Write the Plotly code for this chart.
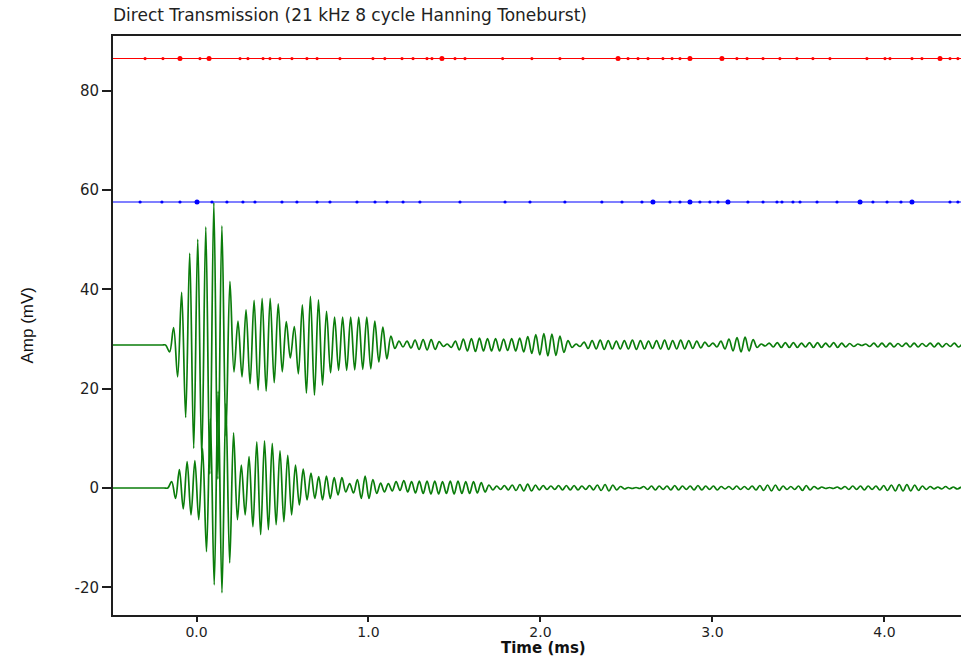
import plotly.graph_objects as go

# ---------------- text ----------------
title_text = "Direct Transmission (21 kHz 8 cycle Hanning Toneburst)"
x_title = "Time (ms)"
y_title = "Amp (mV)"

x_tick_vals = [0, 1, 2, 3, 4]
x_tick_text = ["0.0", "1.0", "2.0", "3.0", "4.0"]
y_tick_vals = [-20, 0, 20, 40, 60, 80]
y_tick_text = ["-20", "0", "20", "40", "60", "80"]

# ---------------- data ----------------
record_start = -0.5          # ms, start of the recorded window

# upper (offset) channel: successive peak / trough readings (mV)
upper_start = -0.180         # ms, time of first reading
upper_step = 0.0234          # ms between successive readings (half period)
upper_vals = [
    28.8, 27.4, 32.3, 22.4, 39.4, 14.2, 47.3, 8.0, 50.1, 6.0,
    52.6, 2.8, 57.5, 1.8, 52.8, 10.5, 41.6, 23.4, 33.6, 22.4,
    35.9, 21.0, 37.8, 19.7, 38.2, 19.5, 38.2, 21.2, 37.1, 23.4,
    33.5, 26.2, 32.5, 23.0, 36.9, 19.1, 38.6, 18.7, 37.9, 20.7,
    35.6, 23.2, 34.4, 23.7, 34.4, 23.7, 34.4, 23.8, 34.4, 23.9,
    34.4, 24.0, 33.6, 25.4, 32.4, 26.0, 30.6, 28.1, 29.6, 28.4,
    29.6, 28.2, 29.8, 27.9, 29.9, 27.8, 29.9, 27.9, 29.5, 28.5,
    29.0, 28.3, 29.6, 27.8, 30.0, 27.6, 30.1, 27.5, 30.2, 27.6,
    30.1, 27.6, 30.1, 27.6, 30.0, 27.7, 30.1, 27.6, 30.2, 27.4,
    30.5, 27.1, 30.9, 26.8, 31.1, 26.6, 31.0, 26.7, 30.6, 27.3,
    29.7, 28.3, 29.0, 28.5, 29.4, 28.1, 29.7, 28.0, 29.8, 27.9,
    29.7, 28.0, 29.6, 28.0, 29.7, 28.0, 29.8, 27.9, 29.7, 28.0,
    29.6, 28.1, 29.7, 28.0, 29.8, 27.9, 29.7, 28.0, 29.8, 28.0,
    29.7, 28.1, 29.6, 28.2, 29.4, 28.5, 29.2, 28.4, 29.6, 28.0,
    30.0, 27.6, 30.3, 27.4, 30.4, 27.6, 29.9, 28.3, 29.0, 28.6,
    29.2, 28.4, 29.3, 28.3, 29.3, 28.3, 29.3, 28.3, 29.2, 28.4,
    29.3, 28.3, 29.3, 28.3, 29.2, 28.4, 29.3, 28.3, 29.2, 28.4,
    29.1, 28.5, 29.0, 28.7, 29.0, 28.5, 29.2, 28.4, 29.2, 28.4,
    29.2, 28.4, 29.1, 28.5, 29.2, 28.4, 29.2, 28.4, 29.1, 28.5,
    29.2, 28.4, 29.2, 28.4, 29.1, 28.5, 29.2, 28.4, 29.1,
]

# lower channel: successive peak / trough readings (mV)
lower_start = -0.167
lower_step = 0.0225
lower_vals = [
    0.0, 1.3, -2.1, 3.7, -4.2, 5.3, -5.4, 5.5, -6.4, 8.0,
    -12.8, 14.0, -19.5, 19.5, -21.1, 17.0, -15.1, 11.1, -6.4, 4.6,
    -5.4, 6.3, -7.8, 9.3, -9.4, 9.5, -8.4, 9.0, -7.4, 7.5,
    -6.8, 6.6, -5.4, 4.6, -3.4, 3.8, -2.4, 3.0, -2.1, 2.3,
    -2.4, 2.4, -2.1, 2.1, -1.4, 2.1, -0.8, 0.9, -1.0, 1.7,
    -2.1, 2.4, -2.1, 1.7, -1.1, 1.0, -0.8, 0.9, -0.6, 1.3,
    -0.5, 1.5, -0.8, 1.3, -1.0, 1.4, -1.1, 1.4, -1.2, 1.4,
    -1.2, 1.3, -1.1, 1.4, -1.2, 1.4, -1.1, 1.3, -1.1, 1.3,
    -1.0, 1.1, -0.8, 0.6, -0.4, 0.4, -0.3, 0.5, -0.4, 0.6,
    -0.5, 0.7, -0.6, 0.8, -0.6, 0.6, -0.4, 0.5, -0.3, 0.4,
    -0.3, 0.5, -0.4, 0.5, -0.4, 0.5, -0.4, 0.4, -0.3, 0.5,
    -0.4, 0.6, -0.5, 0.7, -0.6, 0.6, -0.4, 0.3, -0.2, 0.1,
    -0.1, 0.1, -0.1, 0.3, -0.3, 0.4, -0.4, 0.4, -0.3, 0.4,
    -0.4, 0.5, -0.4, 0.4, -0.3, 0.4, -0.4, 0.5, -0.4, 0.4,
    -0.3, 0.4, -0.4, 0.3, -0.2, 0.3, -0.3, 0.4, -0.3, 0.3,
    -0.3, 0.4, -0.4, 0.5, -0.5, 0.6, -0.6, 0.6, -0.5, 0.4,
    -0.3, 0.3, -0.3, 0.4, -0.5, 0.5, -0.4, 0.3, -0.2, 0.2,
    -0.1, 0.1, -0.1, 0.2, -0.2, 0.3, -0.3, 0.4, -0.3, 0.4,
    -0.4, 0.4, -0.3, 0.4, -0.4, 0.5, -0.5, 0.6, -0.6, 0.7,
    -0.6, 0.7, -0.6, 0.6, -0.5, 0.4, -0.3, 0.3, -0.2, 0.2,
    -0.2, 0.3, -0.2, 0.2, -0.2, 0.2,
]

# red and blue reference levels (mV) with the sample dots seen on them (ms)
red_level = 86.5
red_dots_small = [-0.299, -0.195, 0.020, 0.253, 0.299, 0.387, 0.427, 0.485,
                  0.555, 0.642, 0.701, 0.834, 1.026, 1.095, 1.195, 1.259,
                  1.340, 1.369, 1.503, 1.561, 1.78, 1.95, 2.113, 2.247,
                  2.509, 2.567, 2.625, 2.712, 2.765, 2.811, 3.142, 3.201,
                  3.294, 3.392, 3.491, 3.584, 3.683, 3.898, 4.003, 4.032,
                  4.160, 4.218, 4.381, 4.427]
red_dots_big = [-0.096, 0.073, 1.427, 2.451, 2.869, 3.055, 4.323]

blue_level = 57.6
blue_dots_small = [-0.328, -0.201, -0.096, 0.090, 0.177, 0.270, 0.340, 0.497,
                   0.584, 0.701, 0.776, 0.933, 1.038, 1.108, 1.201, 1.299,
                   1.532, 1.794, 1.939, 2.142, 2.357, 2.474, 2.590, 2.753,
                   2.811, 2.927, 2.985, 3.032, 3.206, 3.294, 3.375, 3.404,
                   3.468, 3.509, 3.608, 3.724, 3.933, 4.015, 4.096, 4.381,
                   4.427]
blue_dots_big = [0.003, 2.654, 2.869, 3.090, 3.858, 4.160]

# ---------------- figure ----------------
def series(start, step, vals):
    # flat pre-trigger baseline, then the successive readings
    t = [record_start, start - step] + [start + i * step for i in range(len(vals))]
    y = [vals[0], vals[0]] + list(vals)
    return t, y

ut, uy = series(upper_start, upper_step, upper_vals)
lt, ly = series(lower_start, lower_step, lower_vals)

green = "#0b7d0b"
fig = go.Figure()
for t, y in ((lt, ly), (ut, uy)):
    fig.add_trace(go.Scatter(x=t, y=y, mode="lines",
                             line=dict(color=green, width=1.7, shape="spline", smoothing=1.0),
                             hoverinfo="skip", showlegend=False))

for level, small, big, col in ((blue_level, blue_dots_small, blue_dots_big, "#0000ff"),
                               (red_level, red_dots_small, red_dots_big, "#ff0000")):
    fig.add_trace(go.Scatter(x=[record_start, 4.5], y=[level, level], mode="lines",
                             line=dict(color=col, width=1.1), showlegend=False))
    fig.add_trace(go.Scatter(x=small, y=[level] * len(small), mode="markers",
                             marker=dict(color=col, size=3.2), showlegend=False))
    fig.add_trace(go.Scatter(x=big, y=[level] * len(big), mode="markers",
                             marker=dict(color=col, size=5), showlegend=False))

axis_col = "#1e1e1e"
fig.update_layout(
    width=961, height=659,
    margin=dict(l=113, r=0, t=36, b=44),
    paper_bgcolor="white", plot_bgcolor="white",
    font=dict(family="DejaVu Sans", size=15, color=axis_col),
    title=dict(text=title_text, font=dict(family="DejaVu Sans", size=17, color="#222"),
               xref="paper", x=0, xanchor="left",
               yref="container", y=1 - 15 / 659, yanchor="middle"),
    xaxis=dict(range=[-0.4855, 4.445], tickvals=x_tick_vals, ticktext=x_tick_text,
               showline=True, linecolor=axis_col, linewidth=2, mirror=True,
               ticks="outside", ticklen=5, tickwidth=2, tickcolor=axis_col,
               tickfont=dict(size=14), ticklabelstandoff=-2,
               showgrid=False, zeroline=False),
    yaxis=dict(range=[-25.58, 91.04], tickvals=y_tick_vals, ticktext=y_tick_text,
               showline=True, linecolor=axis_col, linewidth=2,
               ticks="outside", ticklen=9, tickwidth=2, tickcolor=axis_col,
               showgrid=False, zeroline=False),
    annotations=[
        dict(text="<b>" + x_title + "</b>", xref="paper", yref="paper",
             x=(543.5 - 113) / 848, y=(615 - 648) / 579, xanchor="center", yanchor="middle",
             showarrow=False, font=dict(family="DejaVu Sans", size=15, color="#111")),
        dict(text=y_title, xref="paper", yref="paper", textangle=-90,
             x=(27 - 113) / 848, y=0.5, xanchor="center", yanchor="middle",
             showarrow=False, font=dict(family="Liberation Sans", size=17, color="#111")),
    ],
)

fig.write_html("out.html")
